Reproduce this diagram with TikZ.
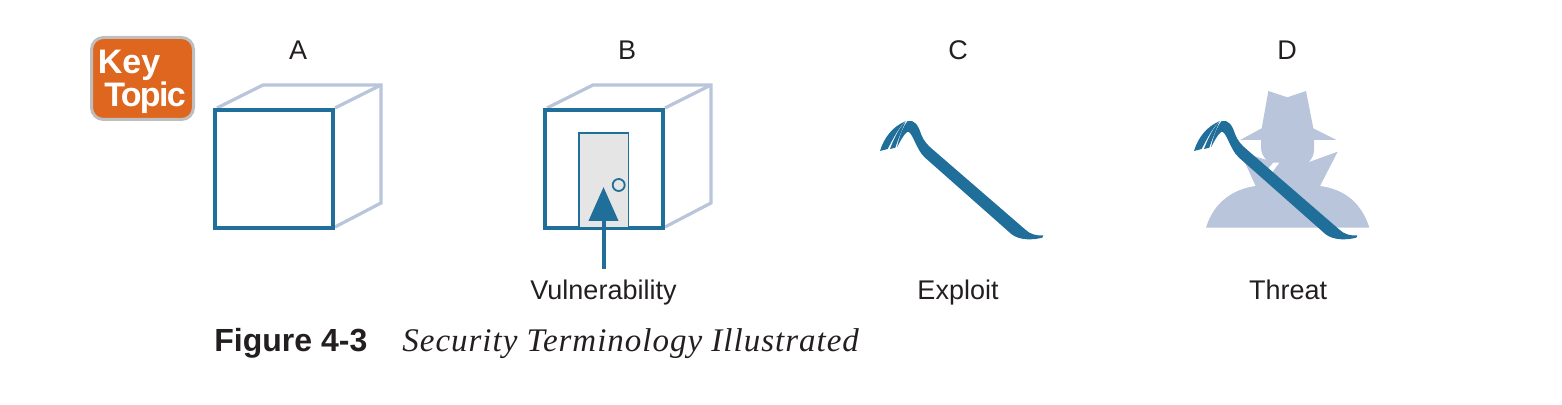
\documentclass[tikz,border=0pt]{standalone}
\usepackage{fontspec}
\setmainfont{Liberation Sans}
\newfontfamily\capfont[LetterSpace=3]{Liberation Serif}
\newfontfamily\tightfont[LetterSpace=-5]{Liberation Sans}
\usetikzlibrary{arrows.meta}
\definecolor{boxblue}{HTML}{206E9A}
\definecolor{paleblue}{HTML}{B8C5DB}
\definecolor{keyorange}{HTML}{DF661E}
\definecolor{keygrey}{HTML}{BEBEBE}
\definecolor{inkblack}{HTML}{231F20}
\tikzset{
  backline/.style={draw=paleblue, line width=1.6pt, line join=miter},
  frontline/.style={draw=boxblue, line width=2.1pt},
  lbl/.style={text=inkblack, font=\fontsize{13.5}{16}\selectfont, inner sep=0pt, anchor=base},
  caption/.style={text=inkblack, inner sep=0pt, anchor=base west},
  zoomed/.style={x=0.16667pt, y=-0.16667pt},
}
% crowbar outline, in units of a third of a pixel
\newcommand{\crowbar}{%
  \fill[boxblue] (30,123) .. controls (42,82) and (70,48) .. (108,33)
    .. controls (88,50) and (72,80) .. (53,117) -- cycle;
  \fill[boxblue] (60,117) .. controls (68,95) and (85,55) .. (106,36)
    .. controls (98,55) and (85,85) .. (76,113) -- cycle;
  \fill[boxblue] (81,112) .. controls (86,85) and (98,50) .. (113,33)
    .. controls (132,28) and (145,45) .. (153,72)
    .. controls (160,92) and (175,108) .. (190,120)
    -- (465,358) .. controls (480,373) and (500,378) .. (520,376)
    -- (517,383) .. controls (490,390) and (450,392) .. (425,373)
    -- (165,143) .. controls (150,130) and (142,110) .. (132,90)
    .. controls (125,75) and (118,62) .. (111,66)
    .. controls (100,75) and (90,95) .. (81,112) -- cycle;
}
\begin{document}
\begin{tikzpicture}[x=0.5pt, y=-0.5pt]
  \useasboundingbox (0,0) rectangle (1562,405);

  % Key topic badge
  \node[draw=keygrey, fill=keyorange, line width=1.5pt, rounded corners=6pt,
    minimum width=51pt, minimum height=41pt, inner sep=0pt] (badge) at (142.5,78.5) {};
  \node[text=white, inner sep=0pt, anchor=north west, align=left,
    font=\fontsize{17}{15}\bfseries\selectfont] (keytext) at (97.5,49.5)
    {Key\\\hspace{3.2pt}{\tightfont Topic}};

  % Column letters
  \node[lbl] (lettera) at (298,60) {A};
  \node[lbl] (letterb) at (627,60) {B};
  \node[lbl] (letterc) at (958,60) {C};
  \node[lbl] (letterd) at (1287,60) {D};

  % Box A
  \draw[backline] (217,108) -- (263,85) -- (381,85) -- (381,203) -- (335,227);
  \draw[backline] (335,108) -- (381,85);
  \draw[frontline] (215,110) rectangle (333,228);

  % Box B with its door
  \draw[backline] (547,108) -- (593,85) -- (711,85) -- (711,203) -- (665,227);
  \draw[backline] (665,108) -- (711,85);
  \draw[frontline] (545,110) rectangle (663,228);
  \fill[black!10] (579,133) rectangle (628.5,227);
  \draw[boxblue, line width=0.9pt] (579,227) -- (579,133) -- (628.5,133) -- (628.5,227);
  \draw[boxblue, line width=0.9pt] (618.7,185) circle (6);

  % Vulnerability arrow
  \node[lbl, inner sep=5.5pt] (vuln) at (603.5,300) {Vulnerability};
  \coordinate (vulntip) at (603.5,187);
  \draw[boxblue, line width=2pt, -{Triangle[length=17pt, width=14.5pt]}] (vuln.north) -- (vulntip);

  % Crowbar alone
  \node[lbl] (exploit) at (958,300) {Exploit};
  \begin{scope}[shift={(870,110)}, zoomed]
    \crowbar
  \end{scope}

  % Figure in a hat, with crowbar
  \node[lbl] (threat) at (1288,300) {Threat};
  \begin{scope}[shift={(1185,80)}, zoomed]
    \fill[paleblue] (250,33) -- (307,52) -- (363,33) -- (385,145) -- (455,180) -- (387,180)
      -- (387,210) .. controls (387,225) and (380,238) .. (370,247)
      -- (458,215) -- (405,318)
      .. controls (480,328) and (530,370) .. (553,443)
      -- (63,443)
      .. controls (85,370) and (140,328) .. (212,318)
      -- (165,215) -- (245,240)
      .. controls (235,230) and (228,220) .. (228,200)
      -- (228,180) -- (165,180) -- (230,145) -- cycle;
    \fill[white] (265,248) -- (283,248) -- (262,276) -- (250,266) -- cycle;
  \end{scope}
  \begin{scope}[shift={(1184,110)}, zoomed]
    \crowbar
  \end{scope}

  % Caption
  \node[caption, font=\fontsize{16}{18}\bfseries\selectfont] (figlabel) at (214,351) {Figure 4-3};
  \node[caption, font=\fontsize{16.5}{18}\capfont\itshape] (figtitle) at (402,351) {Security Terminology Illustrated};
\end{tikzpicture}
\end{document}
